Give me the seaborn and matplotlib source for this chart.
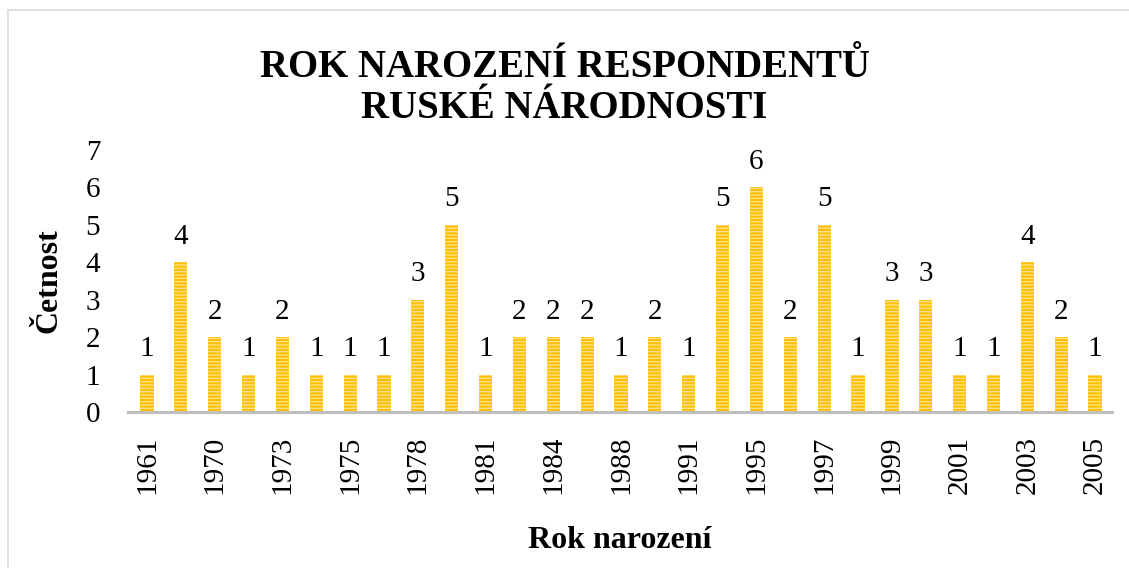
import matplotlib
matplotlib.use("Agg")
import matplotlib.pyplot as plt
import seaborn as sns
import pandas as pd
from matplotlib.patches import Rectangle

years = ["1961", "1968", "1970", "1972", "1973", "1974", "1975", "1977", "1978", "1980",
         "1981", "1983", "1984", "1986", "1988", "1990", "1991", "1994", "1995", "1996",
         "1997", "1998", "1999", "2000", "2001", "2002", "2003", "2004", "2005"]
counts = [1, 4, 2, 1, 2, 1, 1, 1, 3, 5,
          1, 2, 2, 2, 1, 2, 1, 5, 6, 2,
          5, 1, 3, 3, 1, 1, 4, 2, 1]
title_lines = ["ROK NAROZENÍ RESPONDENTŮ", "RUSKÉ NÁRODNOSTI"]
x_label = "Rok narození"
y_label = "Četnost"

sns.set_theme(style="white")
plt.rcParams["font.family"] = ["Liberation Serif", "DejaVu Serif"]
plt.rcParams["hatch.linewidth"] = 1.0
plt.rcParams["text.color"] = "black"
plt.rcParams["axes.labelcolor"] = "black"
plt.rcParams["xtick.color"] = "black"
plt.rcParams["ytick.color"] = "black"

df = pd.DataFrame({"year": years, "count": counts})

fig = plt.figure(figsize=(11.29, 5.68), dpi=100)
ax = fig.add_axes([128 / 1129, 1 - 412 / 568, (1112 - 128) / 1129, (412 - 150) / 568])

sns.barplot(data=df, x="year", y="count", color="#FFC000", width=0.39,
            saturation=1, ax=ax, order=years)
for p in ax.patches:
    p.set_facecolor("#FFC000")
    p.set_edgecolor("#FFE08A")
    p.set_linewidth(0)
    p.set_hatch("-----")

for p, v in zip(ax.patches, counts):
    ax.annotate(str(v), (p.get_x() + p.get_width() / 2, p.get_height()),
                xytext=(0, 9), textcoords="offset points",
                ha="center", va="bottom", fontsize=21, color="black")

ax.set_xlim(-0.56, 28.5)
ax.set_ylim(0, 7)
ax.set_yticks(range(0, 8))
ax.set_yticklabels([str(i) for i in range(0, 8)], fontsize=21)
ax.set_xticks(range(0, len(years), 2))
ax.set_xticklabels(years[::2], rotation=90, fontsize=21)
ax.tick_params(axis="y", length=0, pad=20)
ax.tick_params(axis="x", length=0, pad=17)

for s in ["left", "top", "right"]:
    ax.spines[s].set_visible(False)
ax.spines["bottom"].set_color("#BFBFBF")
ax.spines["bottom"].set_linewidth(2.2)

ax.set_xlabel(x_label, fontsize=23, fontweight="bold")
ax.set_ylabel(y_label, fontsize=23, fontweight="bold")
ax.xaxis.set_label_coords(0.5, -(526 - 412) / 262)
ax.yaxis.set_label_coords(-(128 - 63) / 984, 0.5)

fig.text(0.5, 1 - 77 / 568, title_lines[0], ha="center", va="baseline",
         fontsize=28, fontweight="bold")
fig.text(0.5, 1 - 118 / 568, title_lines[1], ha="center", va="baseline",
         fontsize=28, fontweight="bold")

fig.patches.append(Rectangle((8 / 1129, -0.01), 1.0, 1 - 10 / 568 + 0.01,
                             transform=fig.transFigure, fill=False,
                             edgecolor="#D9D9D9", linewidth=1.2))

fig.savefig("out.png", dpi=100)
